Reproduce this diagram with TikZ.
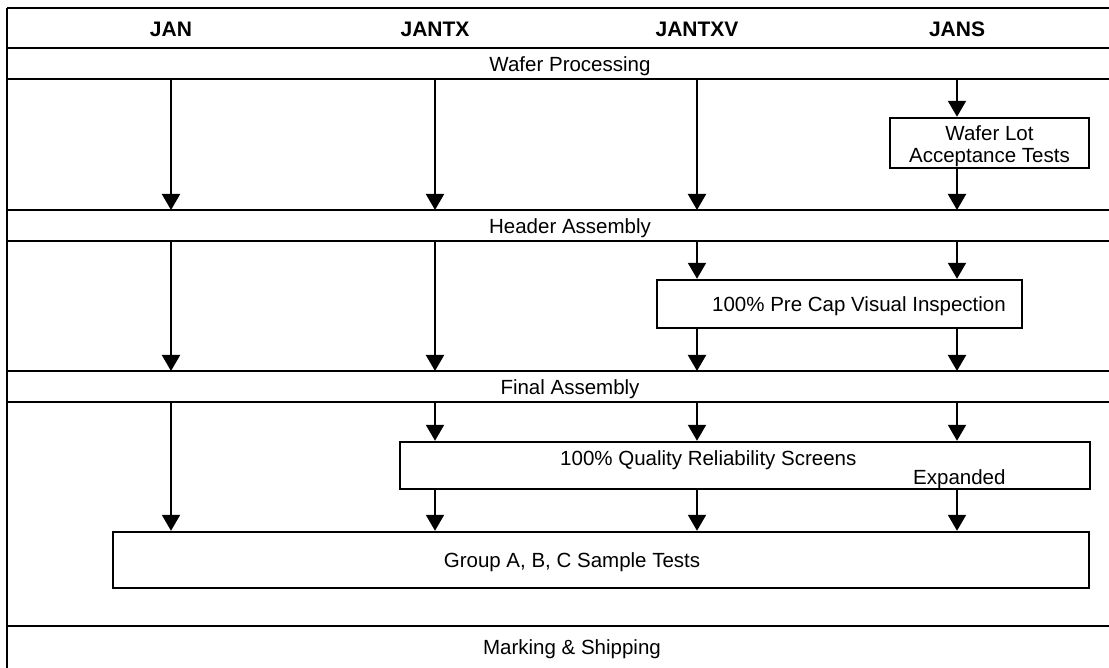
\documentclass[tikz,border=0pt]{standalone}
\usepackage{fontspec}
\setmainfont{Liberation Sans}
\usetikzlibrary{arrows.meta,positioning,calc}

\begin{document}
\begin{tikzpicture}[
    x=1pt, y=-1pt,
    rule/.style={line width=2.6pt},
    flow/.style={line width=2pt, -{Triangle[width=18pt,length=16pt]}},
    stage/.style={draw, line width=2.4pt, inner sep=0pt},
    grade/.style={font=\fontsize{21}{23}\selectfont\bfseries},
    lbl/.style={font=\fontsize{20.5}{22}\selectfont, align=center, inner sep=0pt},
  ]
  \useasboundingbox (0,0) rectangle (1109,668);

  % The grade columns
  \node[grade] (jan)    at (171,29) {JAN};
  \node[grade] (jantx)  at (435,29) {JANTX};
  \node[grade] (jantxv) at (697,29) {JANTXV};
  \node[grade] (jans)   at (957,29) {JANS};

  % The frame and band rules
  \coordinate (top) at (7,8);
  \coordinate (l0) at (7,48);
  \coordinate (l1) at (7,79);
  \coordinate (l2) at (7,210);
  \coordinate (l3) at (7,241);
  \coordinate (l4) at (7,371);
  \coordinate (l5) at (7,402);
  \coordinate (l6) at (7,626);
  \foreach \l in {top,l0,l1,l2,l3,l4,l5,l6}
    \draw[rule] (\l) -- ++(1102,0);
  \draw[rule] (top) -- (7,668);

  % The process steps
  \node[lbl] (wafer)   at (570,66)  {Wafer Processing};
  \node[lbl] (header)  at (570,228) {Header Assembly};
  \node[lbl] (final)   at (570,389) {Final Assembly};
  \node[lbl] (marking) at (572,649) {Marking \& Shipping};

  \node[stage, minimum width=199pt, minimum height=50pt] (lot) at (989.5,143) {};
  \node[lbl, font=\fontsize{20.5}{22}\selectfont] (lottxt) at ($(lot)+(0,3)$) {Wafer Lot\\Acceptance Tests};
  \node[stage, minimum width=365pt, minimum height=48pt] (precap) at (839.5,304) {};
  \node[lbl, anchor=east] (precaptxt) at (1006,306) {100\% Pre Cap Visual Inspection};
  \node[stage, minimum width=690pt, minimum height=47pt] (screen) at (745,465.5) {};
  \node[lbl, anchor=west] (screentxt) at (560,460) {100\% Quality Reliability Screens};
  \node[lbl, anchor=west] (expanded) at (913,479) {Expanded};
  \node[stage, minimum width=976pt, minimum height=56pt] (group) at (601,560) {};
  \node[lbl] (grouptxt) at (572,562) {Group A, B, C Sample Tests};

  % Flow arrows
  \foreach \c in {jan,jantx,jantxv}
    \draw[flow] (\c |- l1) -- (\c |- l2);
  \draw[flow] (jans |- l1) -- (jans |- lot.north);
  \draw[flow] (jans |- lot.south) -- (jans |- l2);

  \foreach \c in {jan,jantx}
    \draw[flow] (\c |- l3) -- (\c |- l4);
  \foreach \c in {jantxv,jans} {
    \draw[flow] (\c |- l3) -- (\c |- precap.north);
    \draw[flow] (\c |- precap.south) -- (\c |- l4);
  }

  \draw[flow] (jan |- l5) -- (jan |- group.north);
  \foreach \c in {jantx,jantxv,jans} {
    \draw[flow] (\c |- l5) -- (\c |- screen.north);
    \draw[flow] (\c |- screen.south) -- (\c |- group.north);
  }
\end{tikzpicture}
\end{document}
